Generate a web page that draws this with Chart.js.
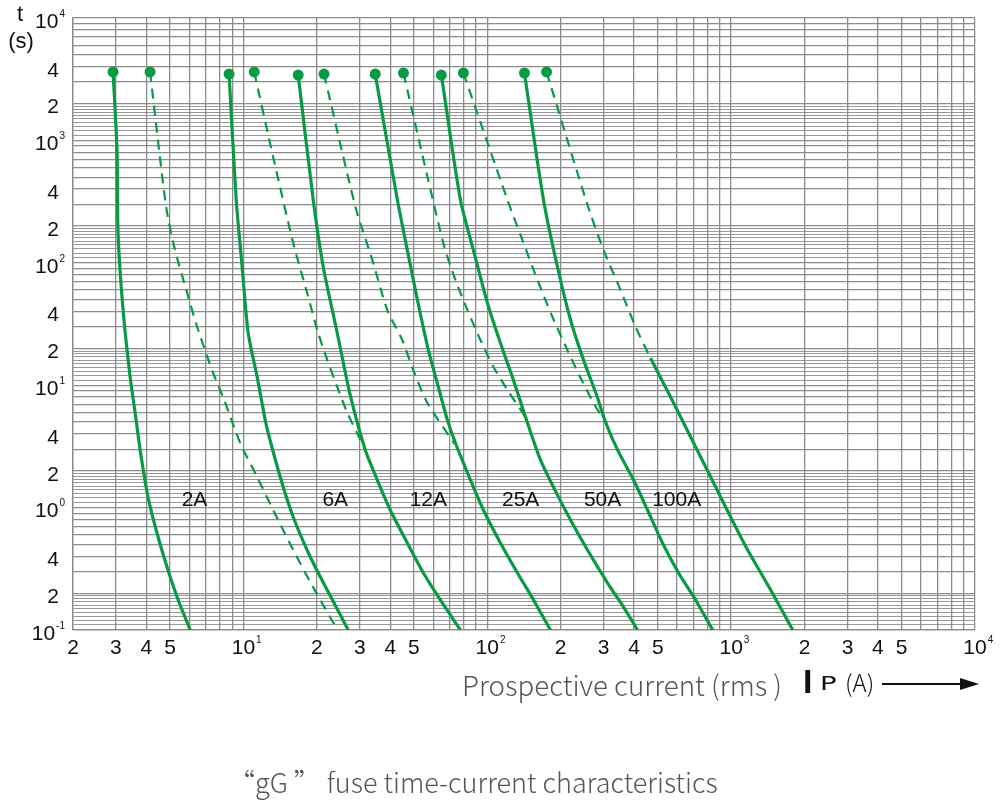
<!DOCTYPE html>
<html>
<head>
<meta charset="utf-8">
<script src="https://cdn.jsdelivr.net/npm/chart.js@4.4.1/dist/chart.umd.min.js"></script>
<style>
  html, body { margin: 0; background: #fff; }
  canvas { display: block; }
</style>
</head>
<body>
<canvas id="c" width="1000" height="811"></canvas>
<script>
// fuse ratings and where their names sit (current A, time s)
const ratings = ['2A', '6A', '12A', '25A', '50A', '100A'];
const ratingLabelCurrent = [6.3, 23.8, 57.3, 137, 297, 598];
const ratingLabelTime = 1.15;

// curves: [prospective current A, time s]
const min2A = [[2.92,3622],[3.03,835],[3.06,175],[3.21,41],[3.43,11.7],[3.63,5.2],[3.77,2.96],[4.06,1.22],[4.42,0.62],[4.86,0.327],[5.4,0.176],[6.05,0.1]];
const max2A = [[4.14,3622],[4.82,286],[5.24,127],[5.88,56.6],[6.46,29.9],[7.51,12.6],[8.34,7.57],[9.7,3.37],[11.38,1.78],[13.24,0.956],[16.0,0.45],[19.3,0.224],[24.3,0.1]];
const min6A = [[8.73,3486],[9.34,326],[9.88,92.4],[10.46,26.7],[11.38,11.7],[12.28,5.2],[12.63,4.07],[14.15,1.78],[16.0,0.838],[18.8,0.395],[22.06,0.212],[26.9,0.1]];
const max6A = [[11.07,3622],[13.24,731],[16.0,145],[18.26,56.6],[20.08,28.2],[22.06,16.1],[24.25,9.66],[26.7,5.93],[31.6,2.96]];
const min12A = [[16.77,3420],[19.33,326],[21.25,92.4],[24.25,26.7],[27.4,8.32],[31.6,2.96],[35.4,1.68],[40.0,0.956],[47.0,0.514],[54.7,0.292],[64.2,0.176],[77.6,0.1]];
const max12A = [[21.4,3486],[28.8,286],[33.8,105],[38.9,41.1],[44.8,23.4],[49.7,13.3],[56.8,7.16],[73.5,3.3]];
const min25A = [[34.7,3486],[42.8,326],[47.0,127],[51.7,49.7],[57.3,19.4],[63.0,9.66],[68.6,5.2],[74.0,3.37],[85.3,1.68],[96.4,0.956],[113.2,0.514],[133,0.292],[154.7,0.176],[181.6,0.1]];
const max25A = [[45.3,3554],[66.0,145],[74.0,72.4],[82.9,41.1],[93.7,23.4],[106,14.1],[121,9.14],[143.4,5.5]];
const min50A = [[64.8,3420],[77.6,326],[87.7,127],[100.1,47.0],[113.2,22.1],[128,11.0],[143.4,5.5],[165.2,2.45],[186.8,1.47],[219.5,0.792],[257.6,0.45],[311.4,0.242],[362,0.154],[413,0.1]];
const max50A = [[79.8,3554],[121,326],[139.4,153],[160.6,72.4],[185,36.1],[213,19.4],[241,11.5],[272.7,7.16],[305.4,5.0]];
const min100A = [[142,3554],[170,326],[194,92.4],[219.5,34.1],[248,16.1],[280.6,8.32],[305.4,5.0],[342,2.96],[398,1.68],[454,0.956],[523,0.514],[609,0.292],[715,0.176],[840,0.1]];
const max100A = [[175,3622],[257.6,297],[299.8,127],[352,60],[405.6,29.9],[467,16.7],[581,7.16],[702,3.37],[848,1.59],[995,0.838],[1169,0.45],[1453,0.212],[1789,0.1]];
const max100ASolidFrom = 5; // the 100A max curve turns solid from this point on

// tick labels
const xTickValues = [2,3,4,5,10,20,30,40,50,100,200,300,400,500,1000,2000,3000,4000,5000,10000];
const xTickLabels = ['2','3','4','5','10^1','2','3','4','5','10^2','2','3','4','5','10^3','2','3','4','5','10^4'];
const yTickValues = [0.1,0.2,0.4,1,2,4,10,20,40,100,200,400,1000,2000,4000,10000];
const yTickLabels = ['10^-1','2','4','10^0','2','4','10^1','2','4','10^2','2','4','10^3','2','4','10^4'];

// log paper rulings
const xGridSteps = [1,2,3,4,5,6,7,8,9];
const yGridSteps = [1,1.1,1.2,1.3,1.4,1.5,1.6,1.7,1.8,1.9,2,3,4,5,6,7,8,9];

function ruling(steps, fromExp, toExp, min){
  const out = [];
  for (let e = fromExp; e < toExp; e++)
    for (const s of steps){ const v = +(s*Math.pow(10,e)).toPrecision(6); if (v >= min) out.push(v); }
  out.push(Math.pow(10,toExp));
  return out;
}
const xGrid = ruling(xGridSteps, 0, 4, 2);
const yGrid = ruling(yGridSteps, -1, 4, 0.1);

const GREEN = '#0a9a45';
const GRID = '#8c8c8c';
const DASH = [10,7];
const TICK_FONT = '"Liberation Sans", Arial, sans-serif';
const TEXT_FONT = '"Noto Sans CJK SC", "Noto Sans", sans-serif';

// main rulings a bit heavier than the fine ones
function ruleWidth(c){
  const v = c.tick && c.tick.value;
  if (!v) return 1.3;
  const m = v / Math.pow(10, Math.floor(Math.log10(v) + 1e-9));
  return Math.abs(m - Math.round(m)) < 1e-6 ? 1.3 : 0.9;
}

const curves = [
  [min2A,false],[max2A,true],[min6A,false],[max6A,true],[min12A,false],[max12A,true],
  [min25A,false],[max25A,true],[min50A,false],[max50A,true],[min100A,false],[max100A,true]
];

const datasets = curves.map(([pts,dashed]) => {
  const ds = {
    data: pts,
    borderColor: GREEN,
    borderWidth: dashed ? 2.2 : 3.2,
    borderDash: dashed ? DASH : [],
    tension: 0.25,
    fill: false,
    pointRadius: c => c.dataIndex === 0 ? 5.5 : 0,
    pointBackgroundColor: GREEN,
    pointBorderWidth: 0
  };
  if (pts === max100A){
    ds.segment = {
      borderDash: c => c.p0DataIndex >= max100ASolidFrom ? [] : DASH,
      borderWidth: c => c.p0DataIndex >= max100ASolidFrom ? 3.2 : 2.2
    };
  }
  return ds;
});

function drawTick(ctx, label, px, py, align){
  const [base, exp] = label.split('^');
  ctx.font = '21px ' + TICK_FONT;
  const bw = ctx.measureText(base).width;
  let ew = 0;
  if (exp !== undefined){ ctx.font = '10px ' + TICK_FONT; ew = ctx.measureText(exp).width + 1; }
  const left = align === 'right' ? px - bw - ew : px - bw/2;
  ctx.textAlign = 'left';
  ctx.font = '21px ' + TICK_FONT;
  ctx.fillText(base, left, py);
  if (exp !== undefined){ ctx.font = '10px ' + TICK_FONT; ctx.fillText(exp, left + bw + 1, py - 8); }
}

// write text so that it spans left..right
function fitText(ctx, text, left, right, y, weight, family){
  ctx.font = weight + ' 20px ' + family;
  const size = 20 * (right - left) / ctx.measureText(text).width;
  ctx.font = weight + ' ' + size.toFixed(1) + 'px ' + family;
  ctx.textAlign = 'left';
  ctx.fillText(text, left, y);
}

const texts = {
  id: 'texts',
  afterDraw(chart){
    const {ctx, scales:{x, y}} = chart;
    ctx.save();
    ctx.fillStyle = '#111';
    ctx.textBaseline = 'middle';
    xTickValues.forEach((v,i) => drawTick(ctx, xTickLabels[i], x.getPixelForValue(v), 648, 'center'));
    yTickValues.forEach((v,i) => {
      const lab = yTickLabels[i];
      drawTick(ctx, lab, lab.includes('^') ? 65 : 59, y.getPixelForValue(v) + 4, 'right');
    });
    // axis unit
    ctx.textAlign = 'center';
    ctx.font = '22px ' + TICK_FONT;
    ctx.fillText('t', 20, 15);
    ctx.fillText('(s)', 21, 42);
    // rating names
    ctx.font = '21px ' + TICK_FONT;
    ratings.forEach((r,i) => ctx.fillText(r, x.getPixelForValue(ratingLabelCurrent[i]), y.getPixelForValue(ratingLabelTime)));
    // x axis title
    ctx.fillStyle = '#555';
    fitText(ctx, 'Prospective current (rms )', 462, 782, 685, '300', TEXT_FONT);
    ctx.fillStyle = '#111';
    ctx.textAlign = 'left';
    ctx.font = 'bold 34px ' + TICK_FONT;
    ctx.fillText('I', 803, 684);
    ctx.save();
    ctx.translate(820, 685);
    ctx.scale(1.45, 1);
    ctx.font = '19px "DejaVu Sans", sans-serif';
    ctx.fillText('P', 0, 0);
    ctx.restore();
    ctx.font = '300 24px ' + TEXT_FONT;
    ctx.fillText('(A)', 845, 683);
    ctx.strokeStyle = '#111';
    ctx.lineWidth = 2;
    ctx.beginPath(); ctx.moveTo(882, 684); ctx.lineTo(964, 684); ctx.stroke();
    ctx.beginPath(); ctx.moveTo(960, 678); ctx.lineTo(979, 684); ctx.lineTo(960, 690); ctx.closePath(); ctx.fill();
    // caption
    ctx.fillStyle = '#555';
    fitText(ctx, '\u201CgG \u201D fuse time-current characteristics', 228, 718, 783, '300', TEXT_FONT);
    ctx.restore();
  }
};

new Chart(document.getElementById('c'), {
  type: 'line',
  data: { datasets },
  plugins: [texts],
  options: {
    responsive: false,
    animation: false,
    events: [],
    devicePixelRatio: 1,
    layout: { padding: { left: 73, right: 25, top: 18, bottom: 181 } },
    plugins: { legend: { display: false }, tooltip: { enabled: false } },
    scales: {
      x: {
        type: 'logarithmic', min: 2, max: 10000,
        afterBuildTicks: s => { s.ticks = xGrid.map(v => ({ value: v })); },
        ticks: { display: false },
        grid: { color: GRID, lineWidth: 1.3, drawTicks: false },
        border: { color: GRID, width: 1.3 }
      },
      y: {
        type: 'logarithmic', min: 0.1, max: 10000,
        afterBuildTicks: s => { s.ticks = yGrid.map(v => ({ value: v })); },
        ticks: { display: false },
        grid: { color: GRID, lineWidth: ruleWidth, drawTicks: false },
        border: { color: GRID, width: 1.3 }
      }
    }
  }
});
</script>
</body>
</html>
